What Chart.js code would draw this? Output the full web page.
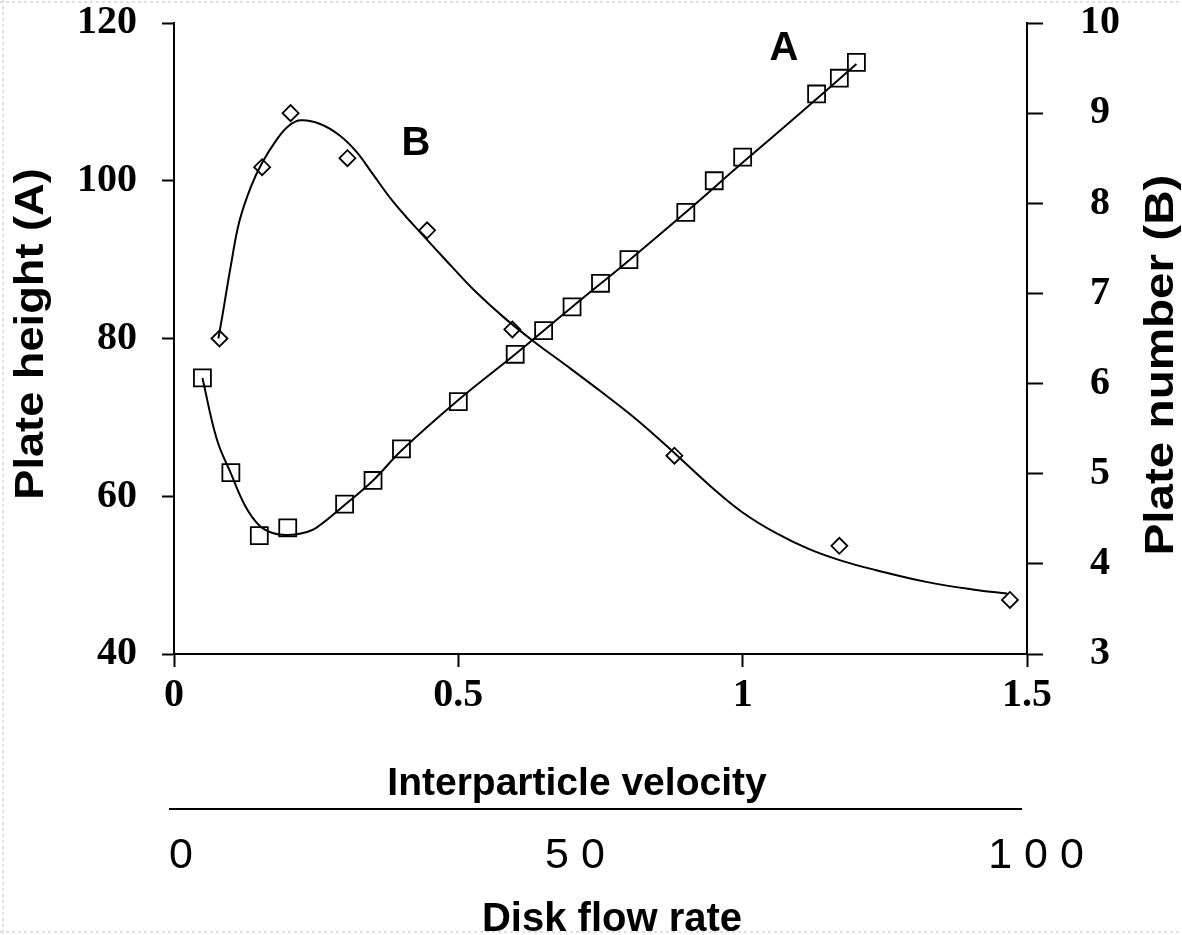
<!DOCTYPE html>
<html>
<head>
<meta charset="utf-8">
<script src="https://cdn.jsdelivr.net/npm/chart.js@4.4.1/dist/chart.umd.min.js"></script>
<style>
html,body{margin:0;padding:0;background:#fff;}
#wrap{width:1182px;height:935px;position:relative;overflow:hidden;}
canvas{display:block;}
</style>
</head>
<body>
<div id="wrap"><canvas id="c" width="1182" height="935"></canvas></div>
<script>
// ---- Data ----
// Curve A: plate height (left axis), square markers
const aVelocity    = [0.05, 0.10, 0.15, 0.20, 0.30, 0.35, 0.40, 0.50, 0.60, 0.65, 0.70, 0.75, 0.80, 0.90, 0.95, 1.00, 1.13, 1.17, 1.20];
const aPlateHeight = [75,   63,   55,   56,   59,   62,   66,   72,   78,   81,   84,   87,   90,   96,   100,  103,  111,  113,  115];
// Fitted line A as drawn in the picture
const aFitVelocity = [0.05, 0.075, 0.10, 0.125, 0.15, 0.175, 0.20, 0.225, 0.25, 0.30, 0.35, 0.40, 0.50, 0.60, 0.70, 0.80, 0.90, 1.00, 1.10, 1.20];
const aFitHeight   = [75,   67.3,  62.9, 58.8,  56.3, 55.3,  55.1, 55.3,  56.0, 58.9, 62.0, 65.8, 72.2, 78.0, 84.0, 89.9, 96.0, 102.3, 108.5, 114.8];

// Curve B: plate number (right axis), diamond markers
const bVelocity    = [0.08, 0.155, 0.205, 0.305, 0.445, 0.595, 0.88, 1.17, 1.47];
const bPlateNumber = [6.5,  8.4,   9.0,   8.5,   7.7,   6.6,   5.2,  4.2,  3.6];
// Fitted line B as drawn in the picture
const bFitVelocity = [0.078, 0.085, 0.10, 0.115, 0.135, 0.155, 0.18, 0.20, 0.222, 0.257, 0.292, 0.321, 0.35, 0.385, 0.421, 0.456, 0.491, 0.532, 0.579, 0.632, 0.69, 0.749, 0.808, 0.866, 0.942, 1.00, 1.059, 1.118, 1.176, 1.235, 1.323, 1.411, 1.465];
const bFitNumber   = [6.50,  6.75,  7.31, 7.80,  8.18,  8.45,  8.70, 8.85, 8.92,  8.88,  8.75,  8.57,  8.32, 8.02,  7.76,  7.52,  7.28,  7.01,  6.74,  6.47,  6.20, 5.92,  5.63,  5.31,  4.87,  4.57, 4.34,  4.16,  4.03,  3.93,  3.80,  3.71,  3.67];

// Tick labels
const velocityTicks = [0, 0.5, 1, 1.5];
const heightTicks   = [40, 60, 80, 100, 120];
const numberTicks   = [3, 4, 5, 6, 7, 8, 9, 10];
const flowTicks     = ['0', '5 0', '1 0 0'];

// Texts
const xTitle     = 'Interparticle velocity';
const flowTitle  = 'Disk flow rate';
const leftTitle  = 'Plate height (A)';
const rightTitle = 'Plate number (B)';
const labelA = 'A';
const labelB = 'B';

// ---- helpers ----
const pts = (xs, ys) => xs.map((x, i) => ({x: x, y: ys[i]}));
const INK = '#000';
const tickFont = {family: '"Liberation Serif", "Times New Roman", serif', size: 40, weight: 'bold'};
const SANS = '"Liberation Sans", Arial, Helvetica, sans-serif';

function stretchedText(ctx, text, x, y, rot, sx, font) {
  ctx.save();
  ctx.translate(x, y);
  ctx.rotate(rot);
  ctx.scale(sx, 1);
  ctx.font = font;
  ctx.textAlign = 'center';
  ctx.textBaseline = 'middle';
  ctx.fillText(text, 0, 0);
  ctx.restore();
}

const decor = {
  id: 'decor',
  beforeDraw(chart) {
    const ctx = chart.ctx;
    ctx.save();
    ctx.fillStyle = '#fff';
    ctx.fillRect(0, 0, chart.width, chart.height);
    // faint dotted page border as in the scan
    ctx.strokeStyle = '#d6d6d6';
    ctx.lineWidth = 1.5;
    ctx.setLineDash([3, 3]);
    ctx.beginPath();
    ctx.moveTo(0, 2); ctx.lineTo(chart.width, 2);
    ctx.moveTo(0, 932); ctx.lineTo(chart.width, 932);
    ctx.moveTo(3, 0); ctx.lineTo(3, chart.height);
    ctx.stroke();
    ctx.restore();
  },
  afterDraw(chart) {
    const ctx = chart.ctx;
    ctx.save();
    ctx.fillStyle = INK;
    ctx.strokeStyle = INK;
    // vertical axis titles (the scan is slightly stretched vertically)
    stretchedText(ctx, leftTitle, 32, 334, -Math.PI / 2, 1.13, 'bold 40px ' + SANS);
    stretchedText(ctx, rightTitle, 1162, 365, -Math.PI / 2, 1.19, 'bold 40px ' + SANS);
    // x title
    ctx.textAlign = 'center';
    ctx.textBaseline = 'alphabetic';
    ctx.font = 'bold 39px ' + SANS;
    ctx.fillText(xTitle, 577, 795);
    // secondary (disk flow rate) axis
    ctx.lineWidth = 2;
    ctx.beginPath();
    ctx.moveTo(169, 809);
    ctx.lineTo(1022, 809);
    ctx.stroke();
    ctx.font = '43px ' + SANS;
    const flowX = [181, 575, 1036];
    flowTicks.forEach((t, i) => ctx.fillText(t, flowX[i], 868));
    ctx.font = 'bold 40px ' + SANS;
    ctx.fillText(flowTitle, 612, 931);
    // curve labels
    ctx.fillText(labelA, 784, 60);
    ctx.fillText(labelB, 416, 155);
    ctx.restore();
  }
};

const axisGrid = (len) => ({
  display: true,
  drawOnChartArea: false,
  drawTicks: true,
  tickLength: len,
  tickWidth: 2,
  tickColor: INK,
  color: INK
});
const axisBorder = {display: true, color: INK, width: 2};
const noPad = (s) => { s.paddingTop = 0; s.paddingBottom = 0; s.paddingLeft = 0; s.paddingRight = 0; };

new Chart(document.getElementById('c'), {
  type: 'scatter',
  data: {
    datasets: [
      {
        label: 'A (points)',
        data: pts(aVelocity, aPlateHeight),
        yAxisID: 'yA',
        showLine: false,
        pointStyle: 'rect',
        pointRadius: 12,
        pointHoverRadius: 12,
        pointBorderWidth: 1.8,
        borderColor: INK,
        pointBorderColor: INK,
        pointBackgroundColor: 'rgba(0,0,0,0)',
        backgroundColor: 'rgba(0,0,0,0)'
      },
      {
        label: 'A (fit)',
        data: pts(aFitVelocity, aFitHeight),
        yAxisID: 'yA',
        showLine: true,
        tension: 0.4,
        borderColor: INK,
        borderWidth: 2,
        pointRadius: 0,
        pointHoverRadius: 0,
        fill: false
      },
      {
        label: 'B (points)',
        data: pts(bVelocity, bPlateNumber),
        yAxisID: 'yB',
        showLine: false,
        pointStyle: 'rectRot',
        pointRadius: 8,
        pointHoverRadius: 8,
        pointBorderWidth: 1.8,
        borderColor: INK,
        pointBorderColor: INK,
        pointBackgroundColor: 'rgba(0,0,0,0)',
        backgroundColor: 'rgba(0,0,0,0)'
      },
      {
        label: 'B (fit)',
        data: pts(bFitVelocity, bFitNumber),
        yAxisID: 'yB',
        showLine: true,
        tension: 0.4,
        borderColor: INK,
        borderWidth: 2,
        pointRadius: 0,
        pointHoverRadius: 0,
        fill: false
      }
    ]
  },
  options: {
    responsive: false,
    animation: false,
    devicePixelRatio: 1,
    layout: {autoPadding: false, padding: {top: 23, left: 0, right: 0, bottom: 0}},
    plugins: {legend: {display: false}, tooltip: {enabled: false}, title: {display: false}},
    events: [],
    scales: {
      x: {
        type: 'linear',
        position: 'bottom',
        min: 0, max: 1.5,
        afterBuildTicks: (s) => { s.ticks = velocityTicks.map(v => ({value: v})); },
        afterFit: (s) => { s.height = 281; noPad(s); },
        ticks: {color: INK, font: tickFont, padding: 5, maxRotation: 0, autoSkip: false, callback: (v) => String(v)},
        grid: axisGrid(13),
        border: axisBorder,
        title: {display: false}
      },
      yA: {
        type: 'linear',
        position: 'left',
        min: 40, max: 120,
        afterBuildTicks: (s) => { s.ticks = heightTicks.map(v => ({value: v})); },
        afterFit: (s) => { s.width = 174; noPad(s); },
        ticks: {color: INK, font: tickFont, padding: 25, autoSkip: false, callback: (v) => String(v)},
        grid: axisGrid(12),
        border: axisBorder,
        title: {display: false}
      },
      yB: {
        type: 'linear',
        position: 'right',
        min: 3, max: 10,
        afterBuildTicks: (s) => { s.ticks = numberTicks.map(v => ({value: v})); },
        afterFit: (s) => { s.width = 155; noPad(s); },
        ticks: {color: INK, font: tickFont, padding: 37, crossAlign: 'center', autoSkip: false, callback: (v) => String(v)},
        grid: axisGrid(16),
        border: axisBorder,
        title: {display: false}
      }
    }
  },
  plugins: [decor]
});
</script>
</body>
</html>
